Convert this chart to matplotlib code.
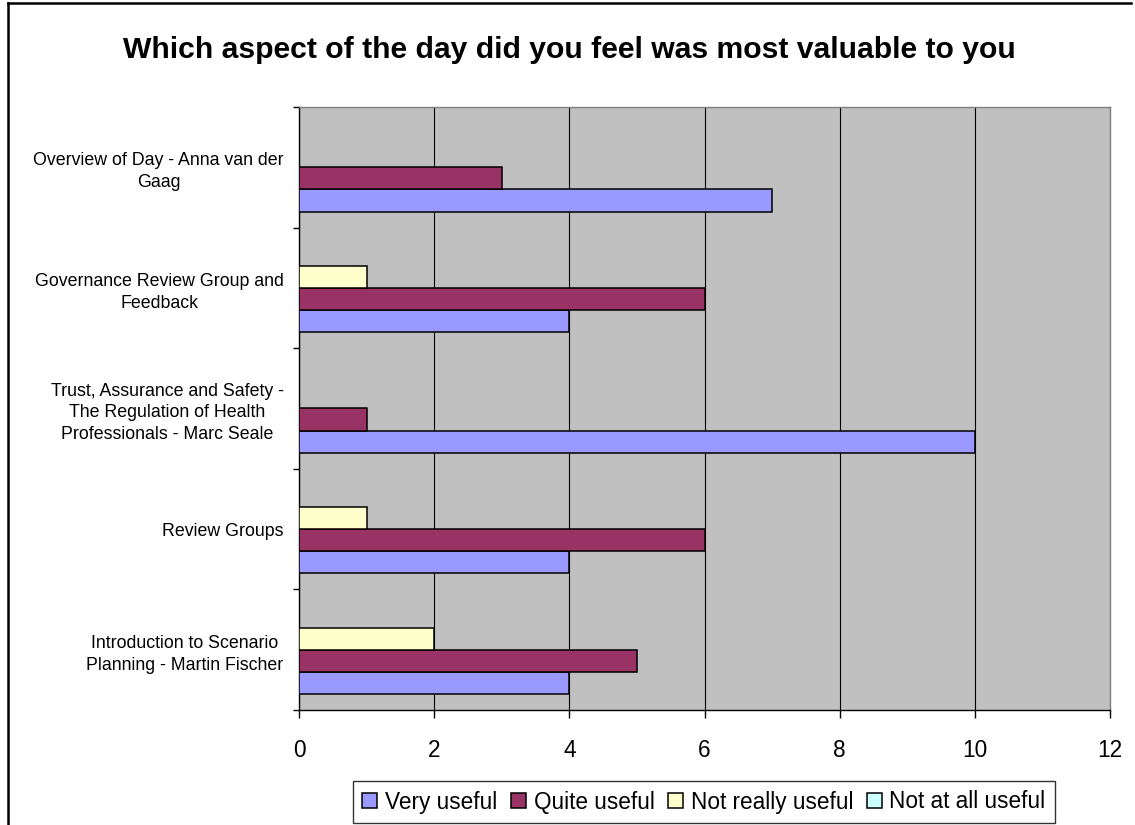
import numpy as np
import matplotlib
matplotlib.use("Agg")
import matplotlib.pyplot as plt
from matplotlib.lines import Line2D

plt.rcParams['font.family'] = ['Liberation Sans', 'DejaVu Sans']

# Session names, top to bottom as they appear on the chart
aspects = [
    'Overview of Day - Anna van der\nGaag',
    'Governance Review Group and\nFeedback',
    'Trust, Assurance and Safety -\nThe Regulation of Health\nProfessionals - Marc Seale',
    'Review Groups',
    'Introduction to Scenario\nPlanning - Martin Fischer',
]
very_useful = [7, 4, 10, 4, 4]
quite_useful = [3, 6, 1, 6, 5]
not_really_useful = [0, 1, 0, 1, 2]
not_at_all_useful = [0, 0, 0, 0, 0]

series_names = ['Very useful', 'Quite useful', 'Not really useful', 'Not at all useful']
series_colors = ['#9999FF', '#993366', '#FFFFCC', '#CCFFFF']
x_ticks = [0, 2, 4, 6, 8, 10, 12]


def main():
    fig = plt.figure(figsize=(11.35, 8.25), dpi=100)
    ax = fig.add_axes([299 / 1135, 115 / 825, 811 / 1135, 603 / 825])
    ax.set_facecolor('#C0C0C0')

    series = [very_useful, quite_useful, not_really_useful, not_at_all_useful]
    n = len(aspects)
    # categories run bottom-up on the axis, so reverse the list
    pos = np.arange(n)
    h = 0.184
    offsets = [-1.5 * h, -0.5 * h, 0.5 * h, 1.5 * h]
    for vals, name, color, off in zip(series, series_names, series_colors, offsets):
        ax.barh(pos + off, vals[::-1], height=h, color=color, edgecolor='black',
                linewidth=1.1, label=name, zorder=3)

    ax.set_xlim(0, 12)
    ax.set_ylim(-0.5, n - 0.5)
    ax.set_xticks(x_ticks)
    ax.set_xticklabels([str(t) for t in x_ticks])
    ax.tick_params(axis='x', direction='out', length=6, width=1, pad=15, labelsize=16.3)

    # labels centred on each group, tick marks on the group boundaries
    ax.set_yticks(pos)
    ax.set_yticklabels(aspects[::-1], fontsize=12.8, multialignment='center', linespacing=1.38)
    ax.tick_params(axis='y', which='major', length=0, pad=11)
    ax.set_yticks(np.arange(n + 1) - 0.5, minor=True)
    ax.tick_params(axis='y', which='minor', direction='out', length=4.5, width=1)

    ax.grid(axis='x', color='black', linewidth=0.8, zorder=1)
    ax.set_axisbelow(True)
    for side in ['left', 'bottom']:
        ax.spines[side].set_color('black')
        ax.spines[side].set_linewidth(1.0)
    for side in ['top', 'right']:
        ax.spines[side].set_color('#808080')
        ax.spines[side].set_linewidth(1.0)

    fig.text(569 / 1135, 1 - 50 / 825, 'Which aspect of the day did you feel was most valuable to you',
             ha='center', va='center', fontsize=21.7, fontweight='bold')

    leg = fig.legend(loc='center', bbox_to_anchor=(704 / 1135, 1 - 802 / 825), ncol=4,
                     fontsize=16.3, frameon=True, fancybox=False, handlelength=0.66,
                     handleheight=0.66, handletextpad=0.34, columnspacing=0.6,
                     borderpad=0.4, borderaxespad=0)
    leg.get_frame().set_edgecolor('black')
    leg.get_frame().set_linewidth(1.0)

    # outer chart border (left and top edges)
    fig.add_artist(Line2D([8 / 1135, 8 / 1135], [0, 1 - 3 / 825], color='black', linewidth=1.8))
    fig.add_artist(Line2D([8 / 1135, 1131 / 1135], [1 - 3 / 825, 1 - 3 / 825], color='black', linewidth=1.8))

    fig.savefig('out.png', dpi=100)


if __name__ == "__main__":
    main()
